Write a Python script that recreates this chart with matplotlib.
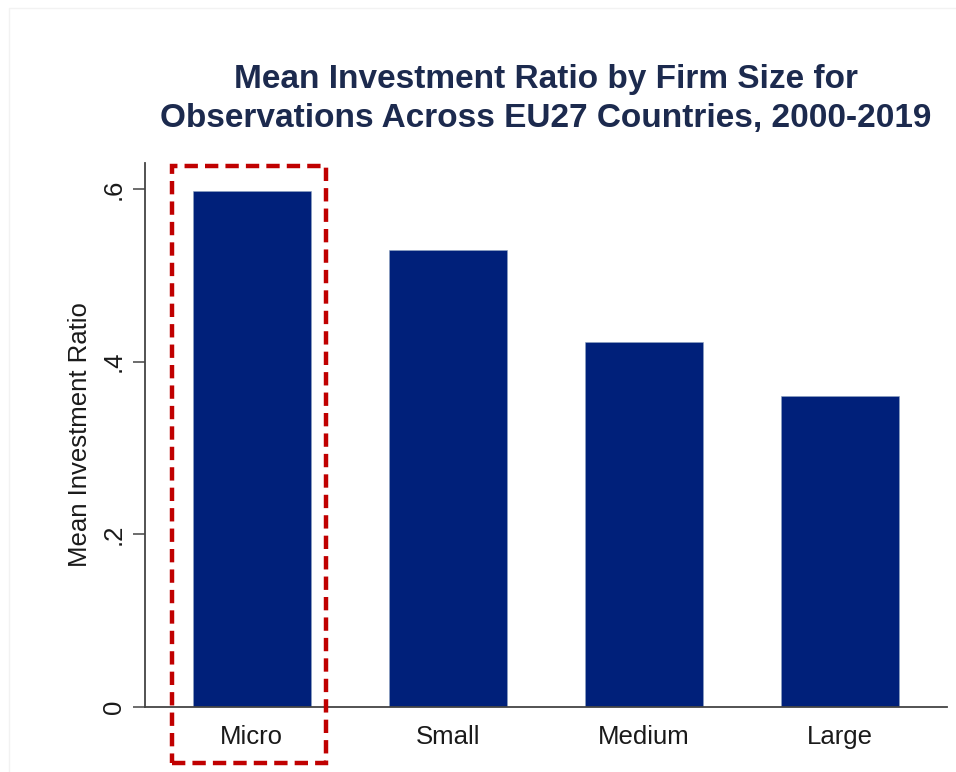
#!/usr/bin/env python

import matplotlib
matplotlib.use("Agg")
import matplotlib.pyplot as plt
from matplotlib.patches import Rectangle

# Mean investment ratio per firm size class
firm_sizes = ["Micro", "Small", "Medium", "Large"]
mean_ratio = [0.598, 0.529, 0.423, 0.360]
y_ticks = [0, 0.2, 0.4, 0.6]
y_tick_labels = ["0", ".2", ".4", ".6"]


def main():
    plt.rcParams["font.family"] = ["Liberation Sans", "DejaVu Sans"]

    fig = plt.figure(figsize=(9.56, 7.72), dpi=100)
    ax = fig.add_axes([145 / 956, 1 - 707 / 772, 802 / 956, 544 / 772])

    x = range(len(firm_sizes))
    ax.bar(x, mean_ratio, width=0.6, color="#00207a", edgecolor="#8fa3c0",
           linewidth=0.4, zorder=2)

    ax.set_xlim(-0.545, len(firm_sizes) - 1 + 0.545)
    ax.set_ylim(0, 0.63)
    ax.set_xticks(list(x))
    ax.set_xticklabels(firm_sizes, fontsize=18.5, color="#1a1a1a")
    ax.tick_params(axis="x", length=0, pad=13)

    ax.set_yticks(y_ticks)
    ax.set_yticklabels(y_tick_labels, fontsize=18.5, rotation=90,
                       va="center", color="#1a1a1a")
    ax.tick_params(axis="y", length=9, width=1.1, color="#444444", pad=5)
    ax.set_ylabel("Mean Investment Ratio", fontsize=18.5, labelpad=7,
                  color="#1a1a1a")

    for side in ("top", "right"):
        ax.spines[side].set_visible(False)
    for side in ("left", "bottom"):
        ax.spines[side].set_color("#444444")
        ax.spines[side].set_linewidth(1.3)

    # Two-line bold title over the plot region
    fig.text(546 / 956, 1 - 99 / 772,
             "Mean Investment Ratio by Firm Size for\n"
             "Observations Across EU27 Countries, 2000-2019",
             ha="center", va="center", fontsize=24, fontweight="bold",
             color="#1c2a4e", linespacing=1.32)

    # Dashed highlight box around the first bar
    fig.patches.append(Rectangle((172 / 956, 1 - 763 / 772),
                                 154 / 956, 597 / 772,
                                 transform=fig.transFigure, fill=False,
                                 edgecolor="#c00000", linewidth=3.2,
                                 linestyle=(0, (3, 1.6))))

    # Faint outer frame
    fig.patches.append(Rectangle((9 / 956, -0.01), 0.995, 1 - 8 / 772 + 0.01,
                                 transform=fig.transFigure, fill=False,
                                 edgecolor="#f2f2f2", linewidth=1))

    fig.savefig("out.png", dpi=100)


if __name__ == "__main__":
    main()
